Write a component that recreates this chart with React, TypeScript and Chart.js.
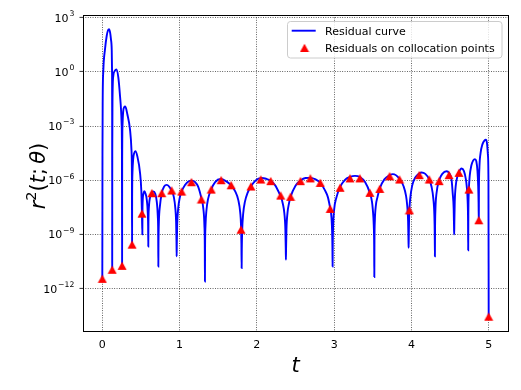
import React, { useEffect, useRef } from "react";
import { Chart, registerables } from "chart.js";

Chart.register(...registerables);

// Collocation points (t) and log10 of r^2 at them
const collocationT = [0, 0.128, 0.256, 0.385, 0.513, 0.641, 0.769, 0.897, 1.026, 1.154, 1.282, 1.41, 1.538, 1.667, 1.795, 1.923, 2.051, 2.179, 2.308, 2.436, 2.564, 2.692, 2.821, 2.949, 3.077, 3.205, 3.333, 3.462, 3.59, 3.718, 3.846, 3.974, 4.103, 4.231, 4.359, 4.487, 4.615, 4.744, 4.872, 5.0];
const collocationLog10 = [-11.46, -10.96, -10.74, -9.57, -7.85, -6.72, -6.72, -6.57, -6.63, -6.11, -7.07, -6.52, -6.0, -6.28, -8.74, -6.35, -5.96, -6.05, -6.85, -6.92, -6.05, -5.9, -6.15, -7.59, -6.42, -5.9, -5.9, -6.7, -6.48, -5.78, -5.96, -7.67, -5.72, -5.96, -6.05, -5.72, -5.59, -6.52, -8.22, -13.56];

// Residual curve samples (t) and log10 of r^2
const curveT = [
  0, 0.002, 0.005, 0.013, 0.035, 0.057, 0.075, 0.087, 0.1, 0.112, 0.122, 0.126, 0.1275, 0.128,
  0.129, 0.132, 0.142, 0.16, 0.182, 0.207, 0.229, 0.25, 0.254, 0.256,
  0.257, 0.261, 0.27, 0.282, 0.297, 0.324, 0.358, 0.377, 0.383, 0.385,
  0.386, 0.39, 0.4, 0.412, 0.428, 0.453, 0.488, 0.505, 0.513, 0.518,
  0.52, 0.53, 0.543, 0.56, 0.575, 0.588, 0.593, 0.595,
  0.597, 0.603, 0.62, 0.641, 0.66, 0.685, 0.705, 0.718, 0.723, 0.725,
  0.727, 0.732, 0.745, 0.769, 0.8, 0.833, 0.865, 0.897, 0.925, 0.945, 0.955, 0.96, 0.962,
  0.964, 0.969, 0.982, 1.002, 1.026, 1.07, 1.11, 1.156, 1.2, 1.24, 1.282, 1.308, 1.321, 1.326, 1.328,
  1.33, 1.335, 1.348, 1.368, 1.41, 1.46, 1.53, 1.6, 1.667, 1.72, 1.76, 1.785, 1.795, 1.8, 1.803,
  1.805, 1.81, 1.823, 1.845, 1.88, 1.923, 1.98, 2.06, 2.12, 2.179, 2.24, 2.29, 2.308, 2.336, 2.356, 2.369, 2.374, 2.376,
  2.378, 2.383, 2.396, 2.415, 2.436, 2.5, 2.564, 2.63, 2.692, 2.76, 2.821, 2.88, 2.92, 2.949, 2.96, 2.973, 2.978, 2.98,
  2.982, 2.987, 3.0, 3.03, 3.077, 3.14, 3.205, 3.27, 3.333, 3.4, 3.462, 3.49, 3.5, 3.513, 3.518, 3.52,
  3.522, 3.527, 3.54, 3.56, 3.59, 3.65, 3.718, 3.76, 3.846, 3.9, 3.93, 3.944, 3.957, 3.962, 3.964,
  3.966, 3.971, 3.974, 3.984, 4.01, 4.05, 4.103, 4.13, 4.18, 4.231, 4.26, 4.284, 4.297, 4.302, 4.304,
  4.306, 4.311, 4.324, 4.359, 4.4, 4.455, 4.487, 4.52, 4.534, 4.547, 4.552, 4.554,
  4.556, 4.561, 4.574, 4.595, 4.615, 4.649, 4.68, 4.705, 4.715, 4.728, 4.733, 4.735,
  4.737, 4.744, 4.755, 4.775, 4.8, 4.822, 4.84, 4.855, 4.864, 4.869, 4.872,
  4.874, 4.88, 4.895, 4.92, 4.945, 4.964, 4.978, 4.99, 4.997, 5.0,
];
const curveLog10 = [
  -11.46, -4.5, -1.5, 0.06, 1.26, 2.0, 2.32, 2.37, 2.2, 1.8, 1.2, 0.0, -2.5, -10.96,
  -4.5, -1.5, -0.22, 0.05, 0.13, -0.3, -1.33, -2.9, -4.5, -10.74,
  -5.0, -3.0, -2.2, -1.97, -1.92, -2.35, -3.18, -4.3, -5.8, -9.57,
  -7.0, -5.6, -4.8, -4.5, -4.39, -4.67, -5.59, -6.6, -7.85, -9.0,
  -7.5, -6.8, -6.61, -6.75, -7.07, -7.8, -8.6, -9.67,
  -8.3, -7.5, -6.9, -6.7, -6.62, -6.75, -7.2, -8.0, -8.9, -10.78,
  -9.4, -8.3, -7.45, -6.72, -6.35, -6.26, -6.35, -6.57, -6.92, -7.56, -8.3, -9.4, -10.22,
  -9.56, -8.47, -7.56, -6.97, -6.63, -6.27, -6.08, -6.02, -6.1, -6.35, -7.0, -7.6, -8.5, -9.6, -11.61,
  -9.6, -8.55, -7.65, -7.05, -6.5, -6.1, -5.93, -6.05, -6.28, -6.62, -7.1, -7.8, -8.5, -9.5, -10.87,
  -9.85, -8.8, -7.85, -7.2, -6.7, -6.35, -6.03, -5.88, -5.92, -6.03, -6.3, -6.72, -6.87, -7.3, -7.84, -8.75, -9.84, -10.4,
  -9.82, -8.73, -7.82, -7.3, -6.92, -6.3, -6.02, -5.88, -5.87, -5.95, -6.15, -6.55, -6.95, -7.55, -7.82, -8.73, -9.82, -10.78,
  -9.63, -8.54, -7.63, -6.95, -6.38, -5.98, -5.82, -5.76, -5.82, -6.1, -6.7, -7.2, -7.6, -8.54, -9.63, -11.36,
  -9.33, -8.24, -7.4, -6.95, -6.45, -5.95, -5.72, -5.66, -5.92, -6.35, -6.85, -7.33, -8.24, -9.33, -9.74,
  -9.03, -7.94, -7.6, -7.03, -6.3, -5.85, -5.62, -5.57, -5.65, -5.96, -6.35, -7.03, -7.94, -9.03, -10.22,
  -8.7, -7.6, -6.75, -6.0, -5.65, -5.5, -5.6, -6.0, -6.7, -7.6, -8.7, -9.0,
  -8.27, -7.18, -6.3, -5.8, -5.55, -5.35, -5.5, -5.95, -6.3, -7.18, -8.27, -9.88,
  -7.95, -6.5, -5.75, -5.2, -4.9, -4.83, -4.95, -5.5, -6.3, -7.2, -8.3,
  -6.5, -5.3, -4.5, -4.0, -3.8, -3.76, -3.95, -4.6, -6.0, -13.56,
];

const xTickValues = [0, 1, 2, 3, 4, 5];
const yTickExponents = [3, 0, -3, -6, -9, -12];
const legendLabels = ["Residual curve", "Residuals on collocation points"];

const FONT = '"DejaVu Sans", sans-serif';

function makeTriangle(): HTMLCanvasElement {
  const c = document.createElement("canvas");
  c.width = 10;
  c.height = 10;
  const g = c.getContext("2d")!;
  g.fillStyle = "#ff0000";
  g.beginPath();
  g.moveTo(5, 0.8);
  g.lineTo(0.5, 9.1);
  g.lineTo(9.5, 9.1);
  g.closePath();
  g.fill();
  return c;
}

export default function App() {
  const ref = useRef<HTMLCanvasElement | null>(null);

  useEffect(() => {
    document.body.style.margin = "0";
    const canvas = ref.current!;
    const tri = makeTriangle();

    const overlay = {
      id: "overlay",
      afterDraw(chart: any) {
        const ctx = chart.ctx as CanvasRenderingContext2D;
        const a = chart.chartArea;
        const ys = chart.scales.y;
        ctx.save();
        // spines
        ctx.strokeStyle = "#000";
        ctx.lineWidth = 1;
        ctx.setLineDash([]);
        ctx.strokeRect(a.left + 0.5, a.top + 0.5, a.right - a.left, a.bottom - a.top);

        // y ticks and labels 10^e
        yTickExponents.forEach((e) => {
          const py = ys.getPixelForValue(Math.pow(10, e));
          const pyA = Math.round(py - 0.4) + 0.4;
          ctx.strokeStyle = "#000";
          ctx.lineWidth = 0.8;
          ctx.beginPath();
          ctx.moveTo(a.left - 3.5, pyA);
          ctx.lineTo(a.left, pyA);
          ctx.stroke();

          const expText = String(e).replace("-", "\u2212");
          ctx.font = `7.7px ${FONT}`;
          const wExp = ctx.measureText(expText).width;
          ctx.font = `11px ${FONT}`;
          const wBase = ctx.measureText("10").width;
          const right = 74.3;
          ctx.fillStyle = "#000";
          ctx.textAlign = "left";
          ctx.textBaseline = "alphabetic";
          ctx.fillText("10", right - wExp - 0.8 - wBase, py + 4);
          ctx.font = `7.7px ${FONT}`;
          ctx.fillText(expText, right - wExp, py - 1.6);
        });

        // legend
        const lx = 287.5, ly = 21.5, lw = 214.5, lh = 36.5, r = 3;
        ctx.beginPath();
        ctx.moveTo(lx + r, ly);
        ctx.lineTo(lx + lw - r, ly);
        ctx.arcTo(lx + lw, ly, lx + lw, ly + r, r);
        ctx.lineTo(lx + lw, ly + lh - r);
        ctx.arcTo(lx + lw, ly + lh, lx + lw - r, ly + lh, r);
        ctx.lineTo(lx + r, ly + lh);
        ctx.arcTo(lx, ly + lh, lx, ly + lh - r, r);
        ctx.lineTo(lx, ly + r);
        ctx.arcTo(lx, ly, lx + r, ly, r);
        ctx.closePath();
        ctx.fillStyle = "rgba(255,255,255,0.8)";
        ctx.fill();
        ctx.strokeStyle = "#cccccc";
        ctx.lineWidth = 1;
        ctx.stroke();

        ctx.strokeStyle = "#0000ff";
        ctx.lineWidth = 1.9;
        ctx.beginPath();
        ctx.moveTo(291.7, 30.7);
        ctx.lineTo(315.7, 30.7);
        ctx.stroke();
        ctx.drawImage(tri, 304.5 - 5, 48 - 5);

        ctx.fillStyle = "#000";
        ctx.font = `11px ${FONT}`;
        ctx.textAlign = "left";
        ctx.textBaseline = "alphabetic";
        ctx.fillText(legendLabels[0], 325, 35);
        ctx.fillText(legendLabels[1], 325, 51.7);

        // x label
        ctx.font = `italic 21px ${FONT}`;
        ctx.textAlign = "center";
        ctx.fillText("t", (a.left + a.right) / 2, 372);

        // y label r^2(t; θ)
        const segs = [
          { s: "r", f: `italic 21px ${FONT}`, dy: 0 },
          { s: "2", f: `14.5px ${FONT}`, dy: -9.5 },
          { s: "(", f: `21px ${FONT}`, dy: 0 },
          { s: "t", f: `italic 21px ${FONT}`, dy: 0 },
          { s: ";", f: `21px ${FONT}`, dy: 0 },
          { s: "\u2009", f: `21px ${FONT}`, dy: 0 },
          { s: "\u03B8", f: `italic 21px ${FONT}`, dy: 0 },
          { s: ")", f: `21px ${FONT}`, dy: 0 },
        ];
        let total = 0;
        const widths = segs.map((g) => {
          ctx.font = g.f;
          const w = ctx.measureText(g.s).width;
          total += w;
          return w;
        });
        ctx.translate(45, 176);
        ctx.rotate(-Math.PI / 2);
        ctx.textAlign = "left";
        let x = -total / 2;
        segs.forEach((g, i) => {
          ctx.font = g.f;
          ctx.fillText(g.s, x, g.dy);
          x += widths[i];
        });
        ctx.restore();
      },
    };

    const chart = new Chart(canvas, {
      type: "line",
      data: {
        datasets: [
          {
            label: legendLabels[1],
            data: collocationT.map((t, i) => ({ x: t, y: Math.pow(10, collocationLog10[i]) })),
            showLine: false,
            pointStyle: tri as any,
            pointRadius: 5,
            pointHoverRadius: 5,
            backgroundColor: "#ff0000",
            borderColor: "#ff0000",
            order: 0,
          },
          {
            label: legendLabels[0],
            data: curveT.map((t, i) => ({ x: t, y: Math.pow(10, curveLog10[i]) })),
            borderColor: "#0000ff",
            backgroundColor: "#0000ff",
            borderWidth: 1.9,
            pointRadius: 0,
            pointHoverRadius: 0,
            cubicInterpolationMode: "monotone",
            fill: false,
            order: 1,
          },
        ],
      },
      options: {
        animation: false,
        responsive: false,
        devicePixelRatio: 1,
        events: [],
        layout: { padding: { left: 0, top: 15, right: 13, bottom: 0 } },
        plugins: { legend: { display: false }, tooltip: { enabled: false } },
        scales: {
          x: {
            type: "linear",
            min: -0.25,
            max: 5.25,
            afterBuildTicks: (s: any) => {
              s.ticks = xTickValues.map((v) => ({ value: v }));
            },
            afterFit: (s: any) => {
              s.height = 59;
              s.paddingLeft = 0;
              s.paddingRight = 0;
            },
            ticks: {
              font: { family: FONT, size: 11 },
              color: "#000",
              padding: 8,
              maxRotation: 0,
              autoSkip: false,
              callback: (v: any) => String(v),
            },
            grid: { color: "rgba(0,0,0,0.85)", lineWidth: 0.8, drawTicks: false },
            border: { display: false, dash: [0.9, 1.5] },
          },
          y: {
            type: "logarithmic",
            min: Math.pow(10, -14.35),
            max: Math.pow(10, 3.15),
            afterBuildTicks: (s: any) => {
              s.ticks = yTickExponents.map((e) => ({ value: Math.pow(10, e) }));
            },
            afterFit: (s: any) => {
              s.width = 83;
              s.paddingTop = 0;
              s.paddingBottom = 0;
            },
            ticks: { display: false },
            grid: { color: "rgba(0,0,0,0.85)", lineWidth: 0.8, drawTicks: false },
            border: { display: false, dash: [0.9, 1.5] },
          },
        },
      } as any,
      plugins: [overlay],
    });

    return () => chart.destroy();
  }, []);

  return (
    <div style={{ position: "absolute", left: 0, top: 0, width: 521, height: 390 }}>
      <canvas ref={ref} width={521} height={390} style={{ display: "block" }} />
    </div>
  );
}
